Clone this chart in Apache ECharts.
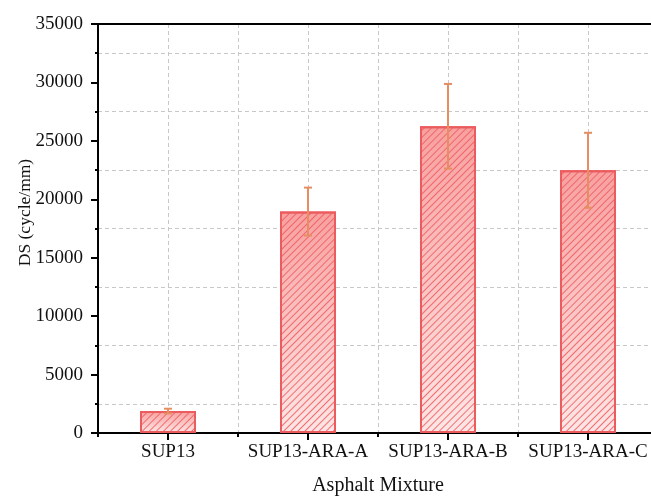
<!DOCTYPE html>
<html>
<head>
<meta charset="utf-8">
<script src="https://cdn.jsdelivr.net/npm/echarts@6/dist/echarts.min.js"></script>
<style>
html,body{margin:0;padding:0;background:#fff;}
#chart{width:651px;height:498px;}
</style>
</head>
<body>
<div id="chart"></div>
<script>
var categories = ['SUP13', 'SUP13-ARA-A', 'SUP13-ARA-B', 'SUP13-ARA-C'];
var dsMean = [1880, 18950, 26250, 22480];
var dsError = [200, 2050, 3620, 3210];
var yTicks = [0, 5000, 10000, 15000, 20000, 25000, 30000, 35000];

var FONT = '"Liberation Serif", "Times New Roman", serif';
var chart = echarts.init(document.getElementById('chart'), null, {renderer: 'canvas'});

var errData = dsMean.map(function (m, i) { return [i, m - dsError[i], m + dsError[i]]; });

var option = {
  animation: false,
  backgroundColor: '#fff',
  grid: {left: 98, right: -7, top: 24, bottom: 65, containLabel: false, outerBoundsMode: 'none'},
  xAxis: [
    {
      type: 'category', position: 'bottom', data: categories,
      axisLine: {show: true, onZero: false, lineStyle: {color: '#000', width: 2}},
      axisTick: {show: true, alignWithLabel: true, length: 7, lineStyle: {color: '#000', width: 2}},
      axisLabel: {color: '#111', fontFamily: FONT, fontSize: 19, margin: 10, interval: 0, hideOverlap: false},
      splitLine: {show: false},
      name: 'Asphalt Mixture', nameLocation: 'middle', nameGap: 43, nameMoveOverlap: false,
      nameTextStyle: {color: '#111', fontFamily: FONT, fontSize: 20}
    },
    {
      type: 'category', position: 'bottom', data: categories,
      axisLine: {show: false, onZero: false},
      axisTick: {show: true, alignWithLabel: false, interval: 0, length: 4, lineStyle: {color: '#000', width: 2}},
      axisLabel: {show: false},
      splitLine: {show: false}
    },
    {
      type: 'value', position: 'top', min: -0.5, max: 3.5, interval: 0.5,
      axisLine: {show: true, onZero: false, lineStyle: {color: '#000', width: 2}},
      axisTick: {show: false}, axisLabel: {show: false},
      splitLine: {show: true, lineStyle: {color: '#c8c8c8', type: [4, 3], width: 1}}
    }
  ],
  yAxis: [{
    type: 'value', min: yTicks[0], max: yTicks[yTicks.length - 1], interval: yTicks[1] - yTicks[0],
    axisLine: {show: true, onZero: false, lineStyle: {color: '#000', width: 2}},
    axisTick: {show: true, length: 7, lineStyle: {color: '#000', width: 2}},
    minorTick: {show: true, splitNumber: 2, length: 3, lineStyle: {color: '#000', width: 2}},
    axisLabel: {color: '#111', fontFamily: FONT, fontSize: 19, margin: 15,
      formatter: function (v) { return String(v); }},
    splitLine: {show: false},
    minorSplitLine: {show: true, lineStyle: {color: '#c8c8c8', type: [4, 3], width: 1}},
    name: 'DS (cycle/mm)', nameLocation: 'middle', nameGap: 64, nameMoveOverlap: false,
    nameTextStyle: {color: '#111', fontFamily: FONT, fontSize: 17.5, padding: [0, 0, 0, 32]}
  }],
  series: [
    {
      type: 'bar', xAxisIndex: 0, yAxisIndex: 0, data: dsMean, barWidth: '40%',
      itemStyle: {
        color: new echarts.graphic.LinearGradient(0, 0, 0, 1, [
          {offset: 0, color: '#f8a0a0'},
          {offset: 1, color: '#fee6e6'}
        ]),
        borderColor: '#ec5c5e', borderWidth: 2,
        decal: {
          symbol: 'rect', symbolSize: 1,
          dashArrayX: [[1, 0]], dashArrayY: [1, 3.6],
          rotation: -Math.PI / 4,
          color: 'rgba(238,90,92,0.85)'
        }
      },
      z: 2
    },
    {
      type: 'custom', xAxisIndex: 0, yAxisIndex: 0, data: errData, z: 5,
      renderItem: function (params, api) {
        var x = api.value(0);
        var lo = api.coord([x, api.value(1)]);
        var hi = api.coord([x, api.value(2)]);
        var hw = 4;
        var st = {stroke: '#e58e62', lineWidth: 2};
        return {type: 'group', children: [
          {type: 'line', shape: {x1: hi[0], y1: hi[1], x2: lo[0], y2: lo[1]}, style: st},
          {type: 'line', shape: {x1: hi[0] - hw, y1: hi[1], x2: hi[0] + hw, y2: hi[1]}, style: st},
          {type: 'line', shape: {x1: lo[0] - hw, y1: lo[1], x2: lo[0] + hw, y2: lo[1]}, style: st}
        ]};
      }
    }
  ]
};
chart.setOption(option);
</script>
</body>
</html>
